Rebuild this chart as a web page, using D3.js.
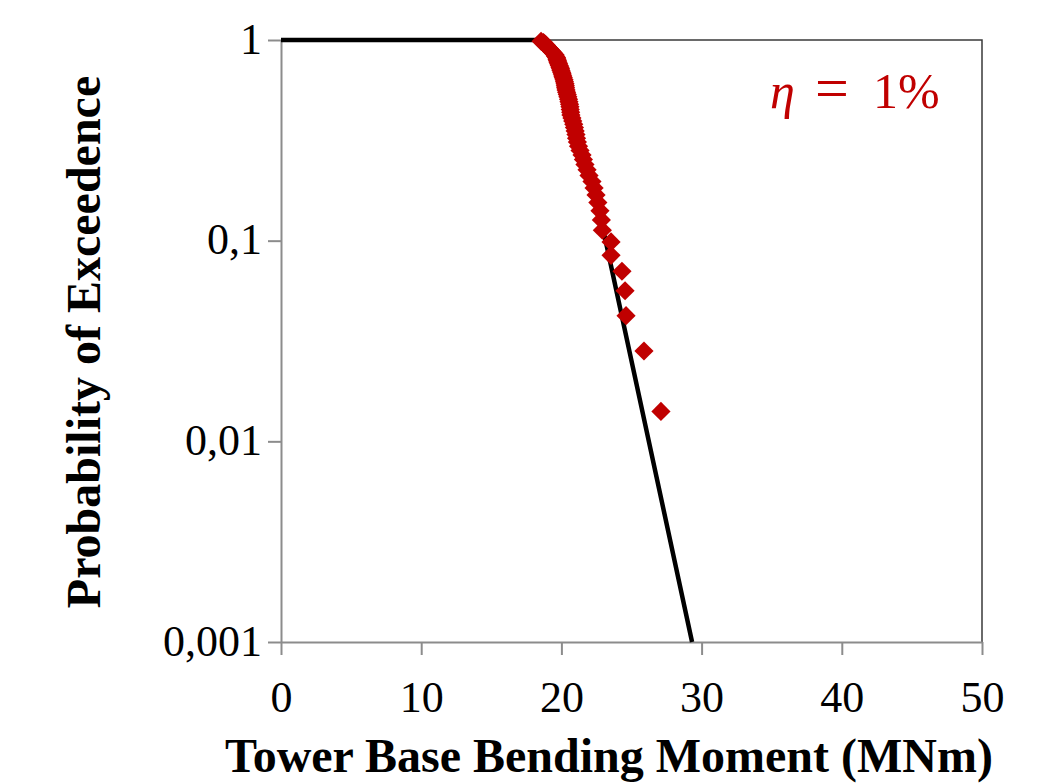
<!DOCTYPE html>
<html>
<head>
<meta charset="utf-8">
<script src="https://cdn.jsdelivr.net/npm/d3@7"></script>
<style>
  body { margin: 0; background: #fff; }
  svg text { font-family: "Liberation Serif", "DejaVu Serif", serif; }
</style>
</head>
<body>
<svg id="drawing_region"></svg>
<script>
// x ticks / y ticks (log)
const xTicks = [0, 10, 20, 30, 40, 50];
const yTicks = [1, 0.1, 0.01, 0.001];
const yTickLabels = ["1", "0,1", "0,01", "0,001"];

// observed peaks (MNm) and their exceedance probability
const moment = [18.55, 18.72, 18.8, 18.9, 18.97, 19.05, 19.15, 19.26, 19.33, 19.44,
    19.54, 19.58, 19.65, 19.69, 19.72, 19.76, 19.8, 19.85, 19.9, 19.94,
    19.97, 20.02, 20.06, 20.1, 20.14, 20.19, 20.22, 20.26, 20.28, 20.3,
    20.33, 20.37, 20.42, 20.46, 20.51, 20.54, 20.58, 20.61, 20.63, 20.66,
    20.68, 20.75, 20.81, 20.88, 20.93, 20.98, 21.04, 21.08, 21.14, 21.22,
    21.33, 21.47, 21.57, 21.68, 21.83, 21.97, 22.18, 22.33, 22.47, 22.6,
    22.75, 22.85, 22.92, 23.54, 23.54, 24.32, 24.54, 24.61, 25.89, 27.10];
const exceedance = [0.9859, 0.9718, 0.9577, 0.9437, 0.9296, 0.9155, 0.9014, 0.8873, 0.8732, 0.8592,
    0.8451, 0.8310, 0.8169, 0.8028, 0.7887, 0.7746, 0.7606, 0.7465, 0.7324, 0.7183,
    0.7042, 0.6901, 0.6761, 0.6620, 0.6479, 0.6338, 0.6197, 0.6056, 0.5915, 0.5775,
    0.5634, 0.5493, 0.5352, 0.5211, 0.5070, 0.4930, 0.4789, 0.4648, 0.4507, 0.4366,
    0.4225, 0.4085, 0.3944, 0.3803, 0.3662, 0.3521, 0.3380, 0.3239, 0.3099, 0.2958,
    0.2817, 0.2676, 0.2535, 0.2394, 0.2254, 0.2113, 0.1972, 0.1831, 0.1690, 0.1549,
    0.1408, 0.1268, 0.1127, 0.0986, 0.0845, 0.0704, 0.0563, 0.0423, 0.0282, 0.0141];

// fitted curve
const fitMoment = [0, 18.3, 18.8, 19.5, 20.2, 20.8, 21.5, 22.3, 23.1, 29.32];
const fitExceed = [1, 1, 0.96, 0.82, 0.6, 0.4, 0.26, 0.17, 0.104, 0.001];

const config = {
    width: 1040,
    height: 783,
    margin: {top: 40, right: 58, bottom: 141, left: 281}
};

const svg = d3.select('#drawing_region')
    .attr('width', config.width)
    .attr('height', config.height);

const inner_width = config.width - config.margin.left - config.margin.right;
const inner_height = config.height - config.margin.top - config.margin.bottom;

const chart = svg.append('g')
    .attr('transform', `translate(${config.margin.left}, ${config.margin.top})`);

const xscale = d3.scaleLinear()
    .domain([0, 50])
    .range([0, inner_width]);

const yscale = d3.scaleLog()
    .domain([0.001, 1])
    .range([inner_height, 0]);

// plot area frame (top / right)
chart.append('path')
    .attr('d', `M0,0H${inner_width}V${inner_height}`)
    .attr('fill', 'none')
    .attr('stroke', '#3a3a3a')
    .attr('stroke-width', 1.5);

const xaxis = d3.axisBottom(xscale)
    .tickValues(xTicks)
    .tickSize(13)
    .tickSizeOuter(0)
    .tickPadding(26)
    .tickFormat(d3.format('d'));

const yaxis = d3.axisLeft(yscale)
    .tickValues(yTicks)
    .tickSize(13)
    .tickSizeOuter(0)
    .tickPadding(6)
    .tickFormat((d, i) => yTickLabels[i]);

const xaxis_group = chart.append('g')
    .attr('transform', `translate(0, ${inner_height})`)
    .call(xaxis);

const yaxis_group = chart.append('g')
    .call(yaxis);

[xaxis_group, yaxis_group].forEach(g => {
    g.selectAll('path, line')
        .attr('stroke', '#8c8c8c')
        .attr('stroke-width', 2);
    g.selectAll('text')
        .attr('fill', '#000')
        .style('font-size', '44px');
});
yaxis_group.selectAll('text').attr('dy', '0.3em');

// fitted line
const line = d3.line()
    .x((d, i) => xscale(fitMoment[i]))
    .y((d, i) => yscale(fitExceed[i]));

chart.append('path')
    .attr('d', line(fitMoment))
    .attr('stroke', '#000')
    .attr('stroke-width', 4.5)
    .attr('fill', 'none');

// observed points
const diamond = d3.symbol().type(d3.symbolDiamond2).size(235);
chart.selectAll('.pt')
    .data(moment)
    .enter()
    .append('path')
    .attr('class', 'pt')
    .attr('d', diamond)
    .attr('transform', (d, i) => `translate(${xscale(d)}, ${yscale(exceedance[i])})`)
    .attr('fill', '#c00000');

// axis titles
svg.append('text')
    .attr('x', 609)
    .attr('y', 772)
    .attr('text-anchor', 'middle')
    .style('font-size', '48px')
    .style('font-weight', 'bold')
    .text('Tower Base Bending Moment (MNm)');

svg.append('text')
    .attr('transform', `translate(100, 342) rotate(-90)`)
    .attr('text-anchor', 'middle')
    .style('font-size', '48px')
    .style('font-weight', 'bold')
    .text('Probability of Exceedence');

// damping label
const lab = svg.append('text')
    .attr('y', 108)
    .attr('fill', '#c00000')
    .style('font-size', '50px');
lab.append('tspan').attr('x', 770).style('font-style', 'italic').text('η');
lab.append('tspan').attr('x', 815).style('font-size', '60px').text('=');
lab.append('tspan').attr('x', 873).text('1%');
</script>
</body>
</html>
